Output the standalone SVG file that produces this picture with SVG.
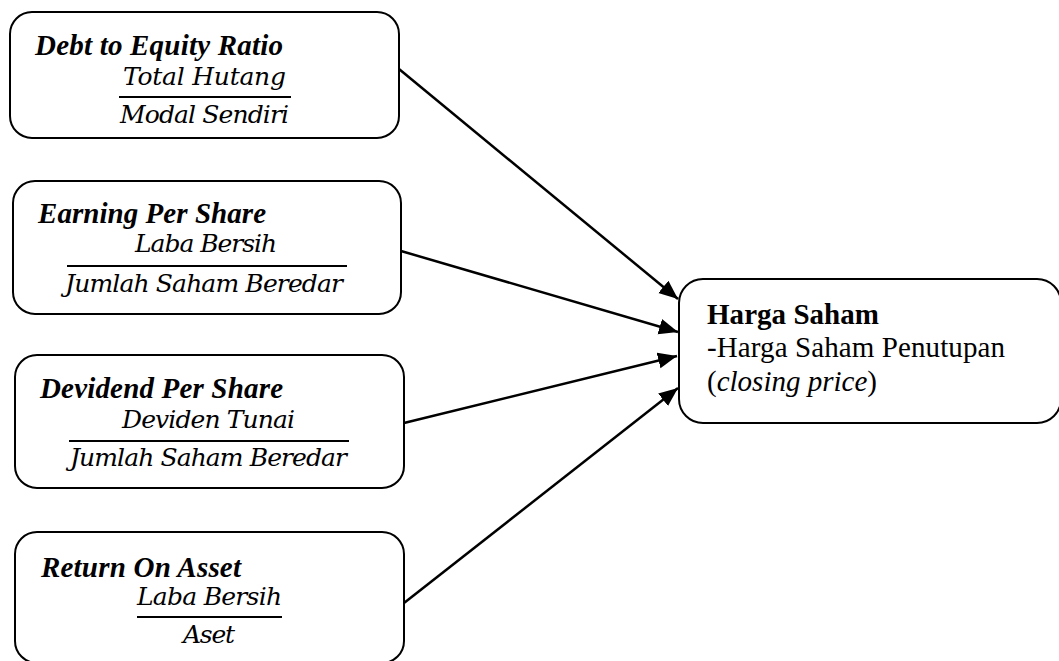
<svg xmlns="http://www.w3.org/2000/svg" width="1059" height="661" viewBox="0 0 1059 661">
<style>
.box{fill:#fff;stroke:#000;stroke-width:2}
.title{font-family:"Liberation Serif","Times New Roman",serif;font-size:29px;font-weight:bold;font-style:italic;fill:#000}
.math{font-family:"DejaVu Serif","Liberation Serif",serif;font-size:25px;font-style:italic;fill:#000}
.frac{stroke:#000;stroke-width:2}
.conn{stroke:#000;stroke-width:2.5;fill:none}
.txt{font-family:"Liberation Serif","Times New Roman",serif;font-size:29px;fill:#000}
</style>
<defs>
<marker id="ah" markerUnits="userSpaceOnUse" markerWidth="22" markerHeight="18" refX="19" refY="8" orient="auto" viewBox="0 0 22 16">
<path d="M0,0 L19,8 L0,16 Z" fill="#000"/>
</marker>
</defs>
<rect width="1059" height="661" fill="#fff"/>
<g id="connectors">
<line class="conn" x1="399" y1="69" x2="678" y2="299" marker-end="url(#ah)"/>
<line class="conn" x1="401" y1="251" x2="678" y2="332" marker-end="url(#ah)"/>
<line class="conn" x1="404" y1="423" x2="677" y2="356" marker-end="url(#ah)"/>
<line class="conn" x1="404" y1="603" x2="678" y2="388" marker-end="url(#ah)"/>
</g>
<g id="node-der">
<rect class="box" x="10" y="12" width="389" height="126" rx="22"/>
<text class="title" x="35" y="55" textLength="248">Debt to Equity Ratio</text>
<text class="math" x="123" y="85" textLength="163">Total Hutang</text>
<line class="frac" x1="119" y1="97" x2="291" y2="97"/>
<text class="math" x="120" y="123" textLength="169">Modal Sendiri</text>
</g>
<g id="node-eps">
<rect class="box" x="13" y="181" width="388" height="133" rx="22"/>
<text class="title" x="38" y="223" textLength="228">Earning Per Share</text>
<text class="math" x="135" y="252" textLength="142">Laba Bersih</text>
<line class="frac" x1="67" y1="266" x2="347" y2="266"/>
<text class="math" x="65" y="292" textLength="278">Jumlah Saham Beredar</text>
</g>
<g id="node-dps">
<rect class="box" x="15" y="355" width="389" height="133" rx="22"/>
<text class="title" x="40" y="398" textLength="243">Devidend Per Share</text>
<text class="math" x="122" y="428" textLength="173">Deviden Tunai</text>
<line class="frac" x1="69" y1="441" x2="349" y2="441"/>
<text class="math" x="70" y="466" textLength="277">Jumlah Saham Beredar</text>
</g>
<g id="node-roa">
<rect class="box" x="15" y="532" width="389" height="131" rx="22"/>
<text class="title" x="41" y="577" textLength="200">Return On Asset</text>
<text class="math" x="137" y="605" textLength="145">Laba Bersih</text>
<line class="frac" x1="137" y1="617" x2="282" y2="617"/>
<text class="math" x="183" y="643" textLength="52">Aset</text>
</g>
<g id="node-harga">
<rect class="box" x="679" y="279" width="382" height="144" rx="24"/>
<text class="txt" x="707" y="324" font-weight="bold" textLength="172">Harga Saham</text>
<text class="txt" x="707" y="357" textLength="298">-Harga Saham Penutupan</text>
<text class="txt" x="707" y="391" textLength="170">(<tspan font-style="italic">closing price</tspan>)</text>
</g>
</svg>
